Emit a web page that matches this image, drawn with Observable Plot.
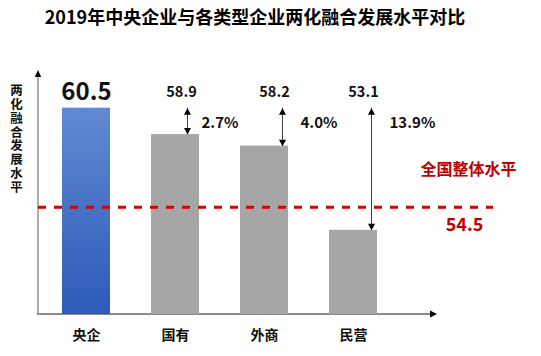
<!DOCTYPE html>
<html><head><meta charset="utf-8">
<script src="https://cdn.jsdelivr.net/npm/d3@7"></script>
<script src="https://cdn.jsdelivr.net/npm/@observablehq/plot@0.6"></script>
<style>
body{margin:0;background:#fff;font-family:"Noto Sans CJK SC","Noto Sans",sans-serif;}
#title{width:510px;height:30px;line-height:32px;text-align:center;font-size:18px;font-weight:bold;color:#000;white-space:nowrap;}
#chart svg{display:block;}
</style></head><body>
<div id="title">2019年中央企业与各类型企业两化融合发展水平对比</div>
<div id="chart"></div>
<script>
// ---- data ----
const categories = ["央企", "国有", "外商", "民营"];
const values = [60.5, 58.9, 58.2, 53.1];
const gapLabels = ["", "2.7%", "4.0%", "13.9%"];
const nationalLevel = 54.5;
const nationalLabel = "全国整体水平";
const yAxisLabel = "两化融合发展水平";
const yDomain = [48, 62.6];

const rows = categories.map((c, i) => ({cat: c, value: values[i], gap: gapLabels[i], top: values[0]}));
const lead = rows.slice(0, 1);
const groupA = rows.slice(1, 2);
const groupB = rows.slice(2);

const FONT = "'Noto Sans CJK SC', 'Noto Sans', sans-serif";

const upTri = {draw(ctx) { ctx.moveTo(0, 0); ctx.lineTo(-3.5, 6.5); ctx.lineTo(3.5, 6.5); ctx.closePath(); }};
const downTri = {draw(ctx) { ctx.moveTo(0, 0); ctx.lineTo(-3.5, -6.5); ctx.lineTo(3.5, -6.5); ctx.closePath(); }};

function decorations(...args) {
  const dims = args.find(a => a && typeof a === "object" && "marginLeft" in a && "width" in a);
  const {width, height, marginLeft, marginRight, marginTop, marginBottom} = dims;
  const g = d3.create("svg:g");
  const grad = g.append("defs").append("linearGradient")
    .attr("id", "blueGrad").attr("x1", 0).attr("y1", 0).attr("x2", 0).attr("y2", 1);
  grad.append("stop").attr("offset", "0%").attr("stop-color", "#6189d3");
  grad.append("stop").attr("offset", "100%").attr("stop-color", "#2c5bb8");
  const x0 = marginLeft, yb = height - marginBottom;
  const xEnd = width - marginRight - 56;
  g.append("line").attr("x1", x0).attr("y1", yb).attr("x2", x0).attr("y2", marginTop + 2)
    .attr("stroke", "#808080").attr("stroke-width", 1.3);
  g.append("path").attr("d", `M${x0},${marginTop - 3}l-3.2,7h6.4z`).attr("fill", "#000");
  g.append("line").attr("x1", x0 - 1).attr("y1", yb).attr("x2", xEnd - 5).attr("y2", yb)
    .attr("stroke", "#8a8a8a").attr("stroke-width", 2);
  g.append("path").attr("d", `M${xEnd},${yb}l-7,-3.5v7z`).attr("fill", "#000");
  return g.node();
}

function gapMarks(data, arrowDx, valueDx, pctDx) {
  return [
    Plot.ruleX(data, {x: "cat", y1: "top", y2: "value", dx: arrowDx, stroke: "#404040", strokeWidth: 1}),
    Plot.dot(data, {x: "cat", y: "top", dx: arrowDx, symbol: upTri, fill: "#000", stroke: "none"}),
    Plot.dot(data, {x: "cat", y: "value", dx: arrowDx, symbol: downTri, fill: "#000", stroke: "none"}),
    Plot.text(data, {x: "cat", y: "top", text: d => d.value.toFixed(1), dx: valueDx, dy: -16,
      fontSize: 14.5, fontWeight: "bold", fill: "#111", fontFamily: FONT}),
    Plot.text(data, {x: "cat", y: "top", text: "gap", dx: pctDx, dy: 15, textAnchor: "start",
      fontSize: 15, fontWeight: "bold", fill: "#111", fontFamily: FONT})
  ];
}

const chart = Plot.plot({
  width: 541,
  height: 326,
  marginTop: 43,
  marginBottom: 42,
  marginLeft: 38,
  marginRight: 48,
  x: {domain: categories, range: [41, 399], paddingInner: 0.46, paddingOuter: 0.23, axis: null},
  y: {domain: yDomain, axis: null},
  style: {fontFamily: FONT, background: "#fff"},
  marks: [
    decorations,
    Plot.barY(rows.slice(1), {x: "cat", y1: yDomain[0], y2: "value", fill: "#a6a6a6"}),
    Plot.barY(lead, {x: "cat", y1: yDomain[0], y2: "value", fill: "url(#blueGrad)"}),
    Plot.ruleY(lead, {y: "value", x1: categories[0], x2: categories[3], dx: 6, stroke: "#7f7f7f", strokeWidth: 1}),
    Plot.ruleY([nationalLevel], {stroke: "#d00000", strokeWidth: 3, strokeDasharray: "8,8"}),
    ...gapMarks(groupA, 12, 6, 26),
    ...gapMarks(groupB, 18, 10, 36),
    Plot.text(lead, {x: "cat", y: "value", text: d => d.value.toFixed(1), dy: -16,
      fontSize: 24, fontWeight: "bold", fill: "#111", fontFamily: FONT}),
    Plot.text(categories, {x: d => d, text: d => d, frameAnchor: "bottom", dy: 25,
      fontSize: 14, fontWeight: "bold", fill: "#111", fontFamily: FONT}),
    Plot.text([{label: nationalLabel, v: nationalLevel}], {y: "v", text: "label", frameAnchor: "right", textAnchor: "middle", dx: -25, dy: -37,
      fontSize: 16, fontWeight: "bold", fill: "#c00000", fontFamily: FONT}),
    Plot.text([{v: nationalLevel}], {y: "v", text: d => d.v.toFixed(1), frameAnchor: "right", textAnchor: "middle", dx: -29, dy: 18,
      fontSize: 18, fontWeight: "bold", fill: "#c00000", fontFamily: FONT}),
    Plot.text([yAxisLabel], {text: d => d.split("").join("\n"), frameAnchor: "top-left", textAnchor: "middle", dx: -22, dy: 12,
      lineAnchor: "top", lineHeight: 1.1, fontSize: 12.5, fontWeight: "bold", fill: "#111", fontFamily: FONT})
  ]
});
document.getElementById("chart").appendChild(chart);
</script>
</body></html>
